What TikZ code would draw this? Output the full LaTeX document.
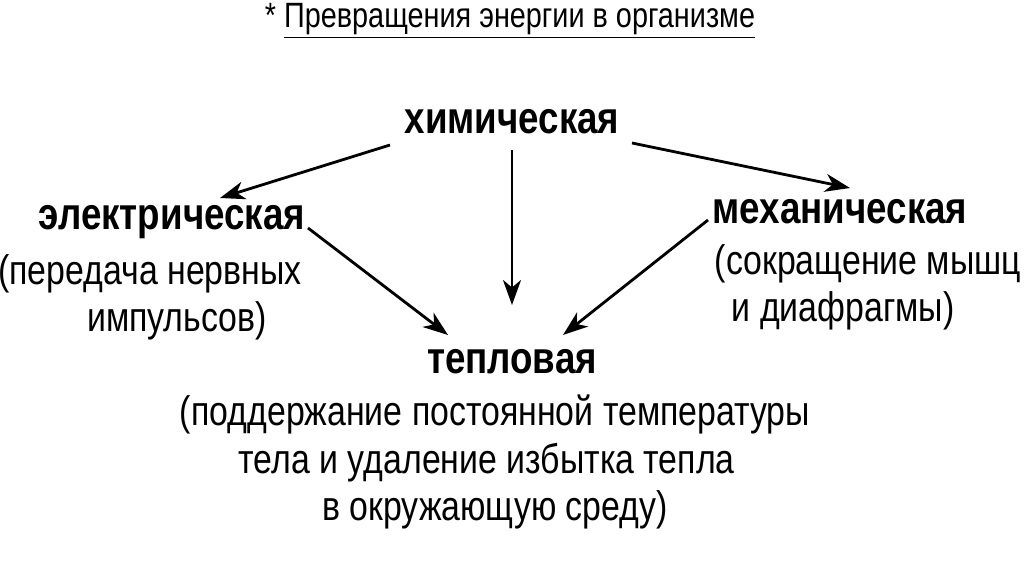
\documentclass[tikz,border=0pt]{standalone}
\usepackage{fontspec}
\setmainfont[FakeStretch=0.82]{Liberation Sans}
\usetikzlibrary{arrows.meta}

\tikzset{
  head/.style={font=\bfseries\fontsize{25.5}{29}\selectfont, inner sep=1pt},
  note/.style={font=\fontsize{23.5}{27}\selectfont, align=center, inner sep=1pt},
  link/.style={line width=1.6pt, -{Stealth[length=5mm,width=3.6mm,inset=1.5mm]}}
}

\begin{document}
\begin{tikzpicture}[x=0.02cm,y=-0.02cm]
\useasboundingbox (0,0) rectangle (1024,575);
% title
\node[font=\fontsize{20}{23}\selectfont, inner sep=1pt] (title) at (510,21)
  {* \underline{Превращения энергии в организме}};

% energy kinds
\node[head] (chem) at (512,122) {химическая};
\node[head] (elec) at (172,222) {электрическая};
\node[head] (mech) at (840,212) {механическая};
\node[head] (heat) at (512,362) {тепловая};

\node[note, anchor=north] (elecnote) at (150,252) {(передача нервных\\\hspace*{1.3em}импульсов)};
\node[note, anchor=north] (mechnote) at (868,242) {(сокращение мышц\\\hspace*{-1.2em}и диафрагмы)};
\node[note, anchor=north] (heatnote) at (495,393)
  {(поддержание постоянной температуры\\\hspace*{-0.4em}тела и удаление избытка тепла\\в окружающую среду)};

% arrow ends
\coordinate (c1) at (390,145);
\coordinate (c2) at (512,150);
\coordinate (c3) at (632,143);
\coordinate (e1) at (220,198);
\coordinate (m1) at (850,188);
\coordinate (h1) at (512,305);
\coordinate (e2) at (308,228);
\coordinate (h2) at (448,335);
\coordinate (m2) at (708,220);
\coordinate (h3) at (563,335);

\draw[link] (c1) -- (e1);
\draw[link] (c2) -- (h1);
\draw[link] (c3) -- (m1);
\draw[link] (e2) -- (h2);
\draw[link] (m2) -- (h3);
\end{tikzpicture}
\end{document}
